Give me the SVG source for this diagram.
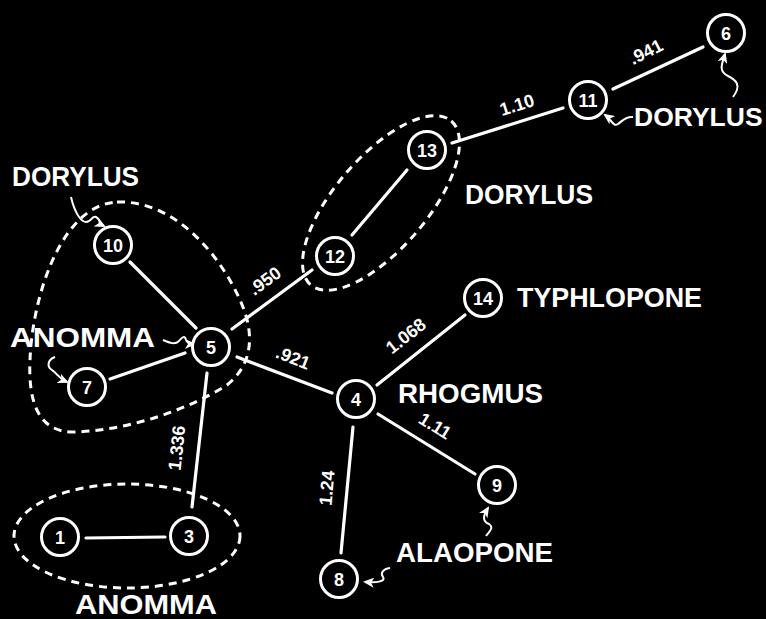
<svg xmlns="http://www.w3.org/2000/svg" width="766" height="619" viewBox="0 0 766 619">
<style>
.node circle{fill:#000;stroke:#fff;stroke-width:3}
.node text{fill:#fff;font-family:"Liberation Sans",Arial,sans-serif;font-size:18px;font-weight:bold;text-anchor:middle}
.edge{stroke:#fff;stroke-width:3.2;fill:none;stroke-linecap:round}
.elab{fill:#fff;font-family:"Liberation Sans",Arial,sans-serif;font-size:18px;font-weight:bold;text-anchor:middle;dominant-baseline:central}
.grp{fill:none;stroke:#fff;stroke-width:3;stroke-dasharray:8 6}
.lab{fill:#fff;font-family:"Liberation Sans",Arial,sans-serif;font-size:28px;font-weight:bold}
.ptr{fill:none;stroke:#fff;stroke-width:2;marker-end:url(#ah)}
</style>
<defs>
<marker id="ah" markerWidth="11" markerHeight="10" refX="9" refY="5" orient="auto" markerUnits="userSpaceOnUse">
<path d="M0,0 L11,5 L0,10 L3,5 Z" fill="#fff"/>
</marker>
</defs>
<rect width="766" height="619" fill="#000"/>
<g id="groups">
<ellipse class="grp" cx="381" cy="203" rx="108" ry="46" transform="rotate(-49.4 381 203)"/>
<path class="grp" d="M117,202 C175,200 220,255 240,300 C256,335 252,365 227,385 C187,410 130,430 75,432 C40,433 28,405 30,360 C32,300 60,205 117,202 Z"/>
<ellipse class="grp" cx="127" cy="536" rx="113" ry="52"/>
</g>
<g id="connectors">
<line class="edge" x1="613" y1="89" x2="703" y2="47"/>
<line class="edge" x1="452" y1="143" x2="563" y2="108"/>
<line class="edge" x1="407" y1="170" x2="352" y2="235"/>
<line class="edge" x1="312" y1="270" x2="232" y2="329"/>
<line class="edge" x1="130" y1="262" x2="196" y2="328"/>
<line class="edge" x1="110" y1="379" x2="185" y2="353"/>
<line class="edge" x1="237" y1="357" x2="332" y2="393"/>
<line class="edge" x1="207" y1="373" x2="192" y2="507"/>
<line class="edge" x1="86" y1="538" x2="165" y2="537"/>
<line class="edge" x1="377" y1="385" x2="465" y2="315"/>
<line class="edge" x1="378" y1="414" x2="475" y2="474"/>
<line class="edge" x1="353" y1="427" x2="341" y2="553"/>
<path class="ptr" d="M71,197 C74,210 80,222 86,222 C92,222 92,215 96,217 C100,219 100,224 104,226"/>
<path class="ptr" d="M163,340 C170,343 175,345 179,341 C183,336 185,336 186,340 C187,343 189,344 194,344"/>
<path class="ptr" d="M55,357 C47,360 47,367 52,370 C58,374 58,378 67,382"/>
<path class="ptr" d="M390,568 C383,569 380,573 383,577 C386,581 378,583 365,582"/>
<path class="ptr" d="M486,536 C490,531 494,527 489,524 C482,521 483,516 488,508"/>
<path class="ptr" d="M633,117 C626,116 622,121 618,124 C613,127 612,120 605,115"/>
<path class="ptr" d="M733,97 C742,85 736,80 728,76 C718,71 722,64 725,54"/>
</g>
<g id="edge-labels">
<text class="elab" transform="translate(646 52) rotate(-27)">.941</text>
<text class="elab" transform="translate(517 105) rotate(-17.5)">1.10</text>
<text class="elab" transform="translate(265 281) rotate(-36)">.950</text>
<text class="elab" transform="translate(293 358) rotate(21)">.921</text>
<text class="elab" transform="translate(406 336) rotate(-38.5)">1.068</text>
<text class="elab" transform="translate(435 426) rotate(31.7)">1.11</text>
<text class="elab" transform="translate(327 488) rotate(-85)">1.24</text>
<text class="elab" transform="translate(177 448) rotate(-84)">1.336</text>
</g>
<g id="node-6" class="node"><circle cx="726" cy="33" r="18.5"/><text x="726" y="39.5">6</text></g>
<g id="node-11" class="node"><circle cx="588" cy="100" r="18.5"/><text x="588" y="106.5">11</text></g>
<g id="node-13" class="node"><circle cx="427" cy="150" r="18.5"/><text x="427" y="156.5">13</text></g>
<g id="node-12" class="node"><circle cx="335" cy="256" r="18.5"/><text x="335" y="262.5">12</text></g>
<g id="node-10" class="node"><circle cx="113" cy="245" r="18.5"/><text x="113" y="251.5">10</text></g>
<g id="node-5" class="node"><circle cx="211" cy="347" r="18.5"/><text x="211" y="353.5">5</text></g>
<g id="node-7" class="node"><circle cx="87" cy="387" r="18.5"/><text x="87" y="393.5">7</text></g>
<g id="node-4" class="node"><circle cx="356" cy="399" r="18.5"/><text x="356" y="405.5">4</text></g>
<g id="node-14" class="node"><circle cx="483" cy="298" r="18.5"/><text x="483" y="304.5">14</text></g>
<g id="node-9" class="node"><circle cx="497" cy="485" r="18.5"/><text x="497" y="491.5">9</text></g>
<g id="node-3" class="node"><circle cx="189" cy="536" r="18.5"/><text x="189" y="542.5">3</text></g>
<g id="node-1" class="node"><circle cx="60" cy="537" r="18.5"/><text x="60" y="543.5">1</text></g>
<g id="node-8" class="node"><circle cx="339" cy="579" r="18.5"/><text x="339" y="585.5">8</text></g>
<g id="labels">
<text class="lab" x="12" y="186" textLength="127" lengthAdjust="spacingAndGlyphs">DORYLUS</text>
<text class="lab" x="465" y="204" textLength="128" lengthAdjust="spacingAndGlyphs">DORYLUS</text>
<text class="lab" x="634" y="126" style="font-size:26.5px">DORYLUS</text>
<text class="lab" x="75" y="614" textLength="142" lengthAdjust="spacingAndGlyphs">ANOMMA</text>
<text class="lab" x="10" y="347" textLength="145" lengthAdjust="spacingAndGlyphs">ANOMMA</text>
<text class="lab" x="517" y="307" textLength="185" lengthAdjust="spacingAndGlyphs">TYPHLOPONE</text>
<text class="lab" x="398" y="403" textLength="145" lengthAdjust="spacingAndGlyphs">RHOGMUS</text>
<text class="lab" x="396" y="562" textLength="157" lengthAdjust="spacingAndGlyphs">ALAOPONE</text>
</g>
</svg>
